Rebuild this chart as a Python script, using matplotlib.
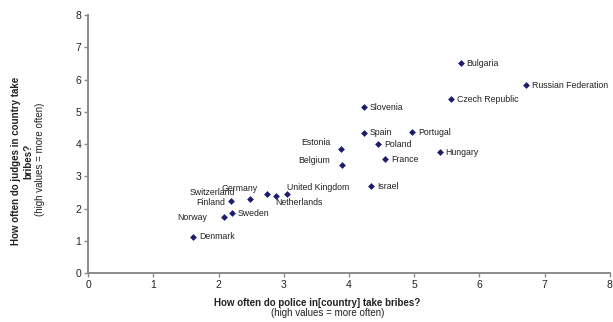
import matplotlib.pyplot as plt

plt.rcParams['font.family'] = ['Liberation Sans', 'DejaVu Sans']

countries = ["Bulgaria", "Russian Federation", "Czech Republic", "Slovenia", "Spain",
             "Portugal", "Poland", "Estonia", "Hungary", "France", "Belgium", "Israel",
             "United Kingdom", "Netherlands", "Germany", "Switzerland", "Finland",
             "Sweden", "Norway", "Denmark"]
police = [5.71, 6.72, 5.57, 4.23, 4.23, 4.97, 4.45, 3.88, 5.39, 4.55, 3.90, 4.34,
          3.05, 2.88, 2.75, 2.48, 2.19, 2.20, 2.08, 1.61]
judges = [6.50, 5.82, 5.39, 5.14, 4.35, 4.36, 3.99, 3.84, 3.75, 3.53, 3.34, 2.70,
          2.44, 2.39, 2.45, 2.29, 2.24, 1.85, 1.75, 1.12]

# label offsets in pixels (dx, dy, ha)
offsets = {
    "Estonia": (-11, 7, "right"),
    "Belgium": (-12, 5, "right"),
    "United Kingdom": (0, 7, "left"),
    "Netherlands": (-1, -6, "left"),
    "Germany": (-10, 6, "right"),
    "Switzerland": (-15, 7, "right"),
    "Finland": (-6, -2, "right"),
    "Norway": (-17, -1, "right"),
}

fig = plt.figure(figsize=(6.13, 3.22), dpi=100)
ax = fig.add_axes([0.1436, 0.152, 0.8514, 0.801])

ax.scatter(police, judges, marker="D", s=12, color="#1c1c6e", zorder=3, linewidths=0)

for name, x, y in zip(countries, police, judges):
    dx, dy, ha = offsets.get(name, (6, 0, "left"))
    ax.annotate(name, (x, y), xytext=(dx * 0.72, dy * 0.72), textcoords="offset points",
                ha=ha, va="center", fontsize=6.3, color="#222222")

ax.set_xlim(0, 8)
ax.set_ylim(0, 8)
ax.set_xticks(range(0, 9))
ax.set_yticks(range(0, 9))
for s in ["top", "right"]:
    ax.spines[s].set_visible(False)
for s in ["left", "bottom"]:
    ax.spines[s].set_color("#8a8a8a")
    ax.spines[s].set_linewidth(1.4)
ax.tick_params(axis="both", length=3, width=1, color="#8a8a8a", labelsize=7.5,
               labelcolor="#222222", pad=2)

fig.text(0.518, 0.058, "How often do police in[country] take bribes?", ha="center",
         va="center", fontsize=7, fontweight="bold", color="#222222")
fig.text(0.535, 0.027, "(high values = more often)", ha="center", va="center",
         fontsize=7, color="#222222")

fig.text(0.036, 0.50, "How often do judges in country take\nbribes?", rotation=90,
         ha="center", va="center", fontsize=7, fontweight="bold", color="#222222",
         multialignment="center", linespacing=1.25)
fig.text(0.066, 0.505, "(high values = more often)", rotation=90, ha="center",
         va="center", fontsize=7, color="#222222")

fig.savefig("out.png", dpi=100)
